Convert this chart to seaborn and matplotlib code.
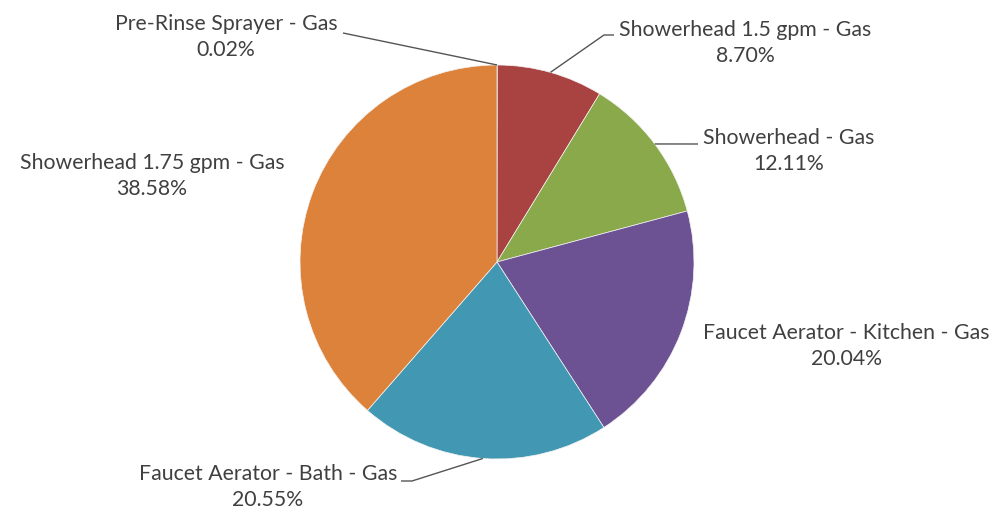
import numpy as np
import matplotlib
matplotlib.use("Agg")
import matplotlib.pyplot as plt
import seaborn as sns

# Share of gas savings by measure
categories = [
    "Pre-Rinse Sprayer - Gas",
    "Showerhead 1.5 gpm - Gas",
    "Showerhead - Gas",
    "Faucet Aerator - Kitchen - Gas",
    "Faucet Aerator - Bath - Gas",
    "Showerhead 1.75 gpm - Gas",
]
shares = [0.02, 8.70, 12.11, 20.04, 20.55, 38.58]
pct_labels = ["0.02%", "8.70%", "12.11%", "20.04%", "20.55%", "38.58%"]

palette = ["#4A7EBB", "#A94342", "#8AA94B", "#6C5292", "#4298B3", "#DC823B"]

sns.set_style("white")
plt.rcParams["font.family"] = ["Lato", "DejaVu Sans"]

W, H = 995, 513
CX, CY, R = 497, 262, 197  # pie centre / radius in pixels

fig = plt.figure(figsize=(W / 100, H / 100), dpi=100)
ax = fig.add_axes([0, 0, 1, 1])

wedges, _ = ax.pie(
    shares,
    colors=palette,
    startangle=90,
    counterclock=False,
    radius=1.0,
    center=(0, 0),
    wedgeprops=dict(linewidth=0.5, edgecolor="#f4f4f4"),
    frame=True,
)
ax.axis("off")
ax.set_xlim(-CX / R, (W - CX) / R)
ax.set_ylim((CY - H) / R, CY / R)
ax.set_aspect("equal")


def px(x, y):
    """Pixel position (origin top-left) to data coordinates."""
    return (x - CX) / R, (CY - y) / R


# label block centres (pixels), in category order, and leader elbows
label_pos = [(226, 37), (745, 43), (789, 151), (846, 346), (268, 487), (152, 176)]
leaders = {
    0: [(343, 33)],
    1: [(614, 35), (604, 35)],
    2: [(698, 144)],
    4: [(401, 481), (412, 481)],
}

text_color = "#404040"
for i, (name, pct) in enumerate(zip(categories, pct_labels)):
    lx, ly = px(*label_pos[i])
    ax.text(lx, ly, f"{name}\n{pct}", ha="center", va="center",
            multialignment="center", fontsize=15.3, color=text_color,
            linespacing=1.38)
    if i in leaders:
        w = wedges[i]
        mid = np.deg2rad((w.theta1 + w.theta2) / 2)
        pts = [px(*p) for p in leaders[i]] + [(np.cos(mid), np.sin(mid))]
        xs, ys = zip(*pts)
        ax.plot(xs, ys, color="#555555", linewidth=1.0, solid_capstyle="butt")

fig.savefig("out.png", dpi=100)
